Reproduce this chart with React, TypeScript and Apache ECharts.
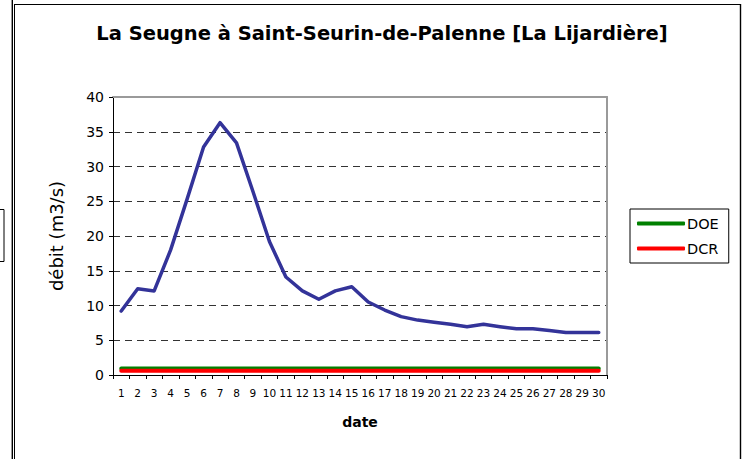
import React, { useEffect, useRef } from "react";
import * as echarts from "echarts";

const days = ["1","2","3","4","5","6","7","8","9","10","11","12","13","14","15","16","17","18","19","20","21","22","23","24","25","26","27","28","29","30"];
const debit = [9.2, 12.4, 12.1, 18.0, 25.3, 32.8, 36.3, 33.4, 26.4, 19.2, 14.1, 12.1, 10.9, 12.1, 12.7, 10.5, 9.35, 8.4, 7.9, 7.6, 7.3, 6.95, 7.3, 6.95, 6.65, 6.65, 6.4, 6.1, 6.1, 6.1];
const doe = [0.95, 0.95, 0.95, 0.95, 0.95, 0.95, 0.95, 0.95, 0.95, 0.95, 0.95, 0.95, 0.95, 0.95, 0.95, 0.95, 0.95, 0.95, 0.95, 0.95, 0.95, 0.95, 0.95, 0.95, 0.95, 0.95, 0.95, 0.95, 0.95, 0.95];
const dcr = [0.6, 0.6, 0.6, 0.6, 0.6, 0.6, 0.6, 0.6, 0.6, 0.6, 0.6, 0.6, 0.6, 0.6, 0.6, 0.6, 0.6, 0.6, 0.6, 0.6, 0.6, 0.6, 0.6, 0.6, 0.6, 0.6, 0.6, 0.6, 0.6, 0.6];
const legendNames = ["DOE", "DCR"];
const titleText = "La Seugne à Saint-Seurin-de-Palenne [La Lijardière]";
const yName = "débit (m3/s)";
const xName = "date";

const FONT = "DejaVu Sans";

export default function App() {
  const ref = useRef<HTMLDivElement>(null);
  useEffect(() => {
    if (!ref.current) return;
    const chart = echarts.init(ref.current, undefined, { renderer: "svg" });
    chart.setOption({
      animation: false,
      backgroundColor: "#ffffff",
      textStyle: { fontFamily: FONT, color: "#000" },
      title: {
        text: titleText,
        left: 377,
        textAlign: "center",
        top: 18,
        textStyle: { fontFamily: FONT, fontSize: 19.5, fontWeight: "bold", color: "#000" },
      },
      legend: {
        data: legendNames,
        orient: "vertical",
        left: 630,
        top: 209,
        padding: [7, 10, 7, 7],
        itemGap: 10,
        itemWidth: 48,
        itemHeight: 4,
        icon: "roundRect",
        borderColor: "#000",
        borderWidth: 1,
        textStyle: { fontFamily: FONT, fontSize: 14.5, color: "#000", padding: [0, 0, 0, -3] },
      },
      grid: { left: 113, top: 97, right: 140, bottom: 84, containLabel: false },
      xAxis: [
        {
          type: "category",
          data: days,
          boundaryGap: true,
          axisLine: { show: true, lineStyle: { color: "#000", width: 1 } },
          axisTick: { show: true, length: 4, lineStyle: { color: "#000" } },
          axisLabel: { interval: 0, fontSize: 10.5, color: "#000", margin: 12, fontFamily: FONT },
          splitLine: { show: false },
          name: xName,
          nameLocation: "middle",
          nameGap: 40,
          nameTextStyle: { fontFamily: FONT, fontSize: 14, fontWeight: "bold", color: "#000" },
        },
        {
          type: "category",
          data: days,
          position: "top",
          axisLine: { show: true, onZero: false, lineStyle: { color: "#9a9a9a", width: 2 } },
          axisTick: { show: false },
          axisLabel: { show: false },
          splitLine: { show: false },
        },
      ],
      yAxis: [
        {
          type: "value",
          min: 0,
          max: 40,
          interval: 5,
          axisLine: { show: true, lineStyle: { color: "#000", width: 1 } },
          axisTick: { show: true, length: 4, lineStyle: { color: "#000" } },
          axisLabel: { fontSize: 14, color: "#000", margin: 9, fontFamily: FONT },
          splitLine: {
            show: true,
            showMinLine: false,
            showMaxLine: false,
            lineStyle: { color: "#333", width: 1, type: [7, 5] },
          },
          name: yName,
          nameLocation: "middle",
          nameGap: 48,
          nameTextStyle: { fontFamily: FONT, fontSize: 18, color: "#000" },
        },
        {
          type: "value",
          min: 0,
          max: 40,
          position: "right",
          axisLine: { show: true, onZero: false, lineStyle: { color: "#9a9a9a", width: 2 } },
          axisTick: { show: false },
          axisLabel: { show: false },
          splitLine: { show: false },
        },
      ],
      series: [
        {
          name: "débit",
          type: "line",
          data: debit,
          symbol: "none",
          lineStyle: { color: "#333399", width: 3.5, cap: "round", join: "round" },
          itemStyle: { color: "#333399" },
          z: 3,
        },
        {
          name: "DOE",
          type: "line",
          data: doe,
          symbol: "none",
          lineStyle: { color: "#008000", width: 4, cap: "round" },
          itemStyle: { color: "#008000" },
          z: 4,
        },
        {
          name: "DCR",
          type: "line",
          data: dcr,
          symbol: "none",
          lineStyle: { color: "#ff0000", width: 4, cap: "round" },
          itemStyle: { color: "#ff0000" },
          z: 5,
        },
      ],
      graphic: [
        { type: "line", shape: { x1: 12.3, y1: 0, x2: 12.3, y2: 459 }, style: { stroke: "#000", lineWidth: 1.4 } },
        { type: "line", shape: { x1: 14.5, y1: 4, x2: 14.5, y2: 459 }, style: { stroke: "#000", lineWidth: 1 } },
        { type: "line", shape: { x1: 14.5, y1: 4.5, x2: 740.5, y2: 4.5 }, style: { stroke: "#000", lineWidth: 1 } },
        { type: "line", shape: { x1: 740.5, y1: 4, x2: 740.5, y2: 459 }, style: { stroke: "#000", lineWidth: 1.4 } },
        { type: "rect", shape: { x: -1, y: 209.5, width: 5, height: 52 }, style: { stroke: "#000", fill: "#fff", lineWidth: 1 } },
      ],
    });
    return () => chart.dispose();
  }, []);
  return (
    <div
      ref={ref}
      style={{ position: "absolute", left: 0, top: 0, width: 747, height: 459, background: "#fff" }}
    />
  );
}
